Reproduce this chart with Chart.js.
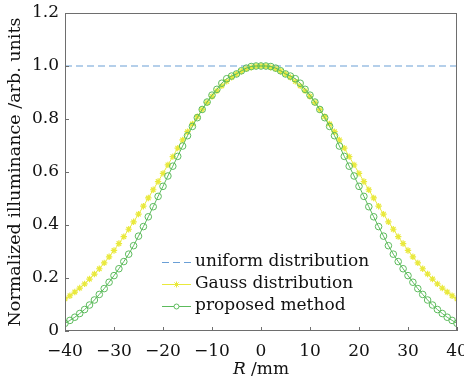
<!DOCTYPE html>
<html>
<head>
<meta charset="utf-8">
<script src="https://cdn.jsdelivr.net/npm/chart.js@4"></script>
<style>
  html, body { margin: 0; padding: 0; background: #fff; }
  #wrap { width: 464px; height: 384px; }
</style>
</head>
<body>
<div id="wrap"><canvas id="myChart" width="464" height="384"></canvas></div>
<script>
// Radial positions (mm)
const radius = [];
for (let r = -40; r <= 40; r++) radius.push(r);

// Left half of each profile, R = -40 .. 0 (profiles are symmetric)
const gaussHalf = [
    0.121, 0.133, 0.147, 0.162, 0.178, 0.196, 0.215, 0.235, 0.257, 0.280,
    0.304, 0.330, 0.356, 0.384, 0.412, 0.441, 0.471, 0.502, 0.533, 0.564,
    0.595, 0.627, 0.658, 0.690, 0.721, 0.752, 0.781, 0.809, 0.836, 0.862,
    0.885, 0.906, 0.925, 0.942, 0.957, 0.970, 0.980, 0.989, 0.995, 0.999,
    1.000
];
const proposedHalf = [
    0.029, 0.040, 0.052, 0.066, 0.081, 0.098, 0.117, 0.138, 0.160, 0.184,
    0.209, 0.235, 0.262, 0.290, 0.322, 0.358, 0.394, 0.431, 0.469, 0.508,
    0.546, 0.585, 0.622, 0.659, 0.698, 0.737, 0.772, 0.805, 0.836, 0.864,
    0.890, 0.912, 0.935, 0.952, 0.962, 0.970, 0.982, 0.992, 0.998, 1.000,
    1.000
];
const gaussValues = gaussHalf.concat(gaussHalf.slice(0, -1).reverse());
const proposedValues = proposedHalf.concat(proposedHalf.slice(0, -1).reverse());

const uniformR = [-40, 40];
const uniformValues = [1, 1];

const xTicks = [-40, -30, -20, -10, 0, 10, 20, 30, 40];
const yTicks = [0, 0.2, 0.4, 0.6, 0.8, 1.0, 1.2];

const seriesNames = ['uniform distribution', 'Gauss distribution', 'proposed method'];

const FONT = 'DejaVu Serif';
const BLUE = '#6a9fd6';
const YELLOW = '#e9e93c';
const GREEN = '#5cbb5c';

const toPoints = (xs, ys) => xs.map((x, i) => ({ x: x, y: ys[i] }));

// Box frame, inward tick marks, x title with italic R, legend
const decorations = {
    id: 'decorations',
    afterDatasetsDraw(chart) {
        const ctx = chart.ctx;
        const a = chart.chartArea;
        const xs = chart.scales.x;
        const ys = chart.scales.y;
        ctx.save();
        ctx.strokeStyle = '#6e6e6e';
        ctx.lineWidth = 1;
        ctx.strokeRect(a.left + 0.5, a.top + 0.5, a.right - a.left - 1, a.bottom - a.top - 1);
        ctx.beginPath();
        xTicks.forEach(v => {
            const px = Math.round(xs.getPixelForValue(v)) + 0.5;
            ctx.moveTo(px, a.bottom);
            ctx.lineTo(px, a.bottom - 4);
        });
        yTicks.forEach(v => {
            const py = Math.round(ys.getPixelForValue(v)) + 0.5;
            ctx.moveTo(a.left, py);
            ctx.lineTo(a.left + 4, py);
        });
        ctx.stroke();

        // x axis title: "R /mm"
        ctx.fillStyle = '#111';
        ctx.textBaseline = 'middle';
        ctx.textAlign = 'left';
        const italic = 'italic 17px "' + FONT + '"';
        const upright = '17px "' + FONT + '"';
        ctx.font = italic;
        const w1 = ctx.measureText('R').width;
        ctx.font = upright;
        const w2 = ctx.measureText(' /mm').width;
        const cx = (a.left + a.right) / 2;
        const tx = cx - (w1 + w2) / 2;
        ctx.font = italic;
        ctx.fillText('R', tx, 370);
        ctx.font = upright;
        ctx.fillText(' /mm', tx + w1, 370);

        // legend
        const rows = [262, 284, 306];
        const x0 = 162, x1 = 191;
        chart.data.datasets.forEach((ds, i) => {
            const y = rows[i] + 0.5;
            ctx.strokeStyle = ds.borderColor;
            ctx.lineWidth = ds.borderWidth;
            ctx.setLineDash(ds.borderDash || []);
            ctx.beginPath();
            ctx.moveTo(x0, y);
            ctx.lineTo(x1, y);
            ctx.stroke();
            ctx.setLineDash([]);
            if (ds.legendMarker) {
                ctx.lineWidth = 1;
                ctx.beginPath();
                if (ds.legendMarker === 'circle') {
                    ctx.fillStyle = '#fff';
                    ctx.arc((x0 + x1) / 2, y, 2.5, 0, Math.PI * 2);
                    ctx.fill();
                    ctx.stroke();
                } else {
                    const c = (x0 + x1) / 2;
                    for (let k = 0; k < 4; k++) {
                        const ang = k * Math.PI / 4;
                        ctx.moveTo(c - 3 * Math.cos(ang), y - 3 * Math.sin(ang));
                        ctx.lineTo(c + 3 * Math.cos(ang), y + 3 * Math.sin(ang));
                    }
                    ctx.stroke();
                }
            }
            ctx.fillStyle = '#111';
            ctx.font = '17px "' + FONT + '"';
            ctx.fillText(ds.label, 195, rows[i]);
        });
        ctx.restore();
    }
};

const data = {
    datasets: [
        {
            label: seriesNames[0],
            data: toPoints(uniformR, uniformValues),
            borderColor: BLUE,
            borderWidth: 1.2,
            borderDash: [7, 4],
            pointRadius: 0,
            order: 3
        },
        {
            label: seriesNames[1],
            data: toPoints(radius, gaussValues),
            borderColor: YELLOW,
            borderWidth: 1,
            pointStyle: 'star',
            pointRadius: 3.2,
            pointBorderWidth: 1.2,
            pointBorderColor: YELLOW,
            legendMarker: 'star',
            order: 2
        },
        {
            label: seriesNames[2],
            data: toPoints(radius, proposedValues),
            borderColor: GREEN,
            borderWidth: 1,
            pointStyle: 'circle',
            pointRadius: 3.3,
            pointBorderWidth: 1,
            pointBorderColor: GREEN,
            pointBackgroundColor: 'rgba(255,255,255,0)',
            legendMarker: 'circle',
            order: 1
        }
    ]
};

const config = {
    type: 'line',
    data,
    options: {
        responsive: false,
        animation: false,
        layout: { padding: { top: 13, right: 7, left: 0, bottom: 0 } },
        scales: {
            x: {
                type: 'linear',
                min: -40,
                max: 40,
                afterFit: s => {
                    s.height = 53;
                    s.paddingLeft = 0;
                    s.paddingRight = 0;
                },
                afterBuildTicks: s => { s.ticks = xTicks.map(v => ({ value: v })); },
                grid: { display: false, drawTicks: false },
                border: { display: false },
                ticks: {
                    padding: 10,
                    color: '#111',
                    font: { family: FONT, size: 17 },
                    callback: v => String(v).replace('-', '\u2212')
                }
            },
            y: {
                min: 0,
                max: 1.2,
                afterFit: s => {
                    s.width = 65;
                    s.paddingTop = 0;
                    s.paddingBottom = 0;
                },
                afterBuildTicks: s => { s.ticks = yTicks.map(v => ({ value: v })); },
                grid: { display: false, drawTicks: false },
                border: { display: false },
                ticks: {
                    padding: 6,
                    color: '#111',
                    font: { family: FONT, size: 17 },
                    callback: v => v === 0 ? '0' : v.toFixed(1)
                },
                title: {
                    display: true,
                    text: 'Normalized illuminance /arb. units',
                    color: '#111',
                    font: { family: FONT, size: 17.5 },
                    padding: { top: 5, bottom: 0 }
                }
            }
        },
        plugins: {
            legend: { display: false },
            tooltip: { enabled: false }
        }
    },
    plugins: [decorations]
};

window.myChart = new Chart(document.getElementById('myChart'), config);
</script>
</body>
</html>
